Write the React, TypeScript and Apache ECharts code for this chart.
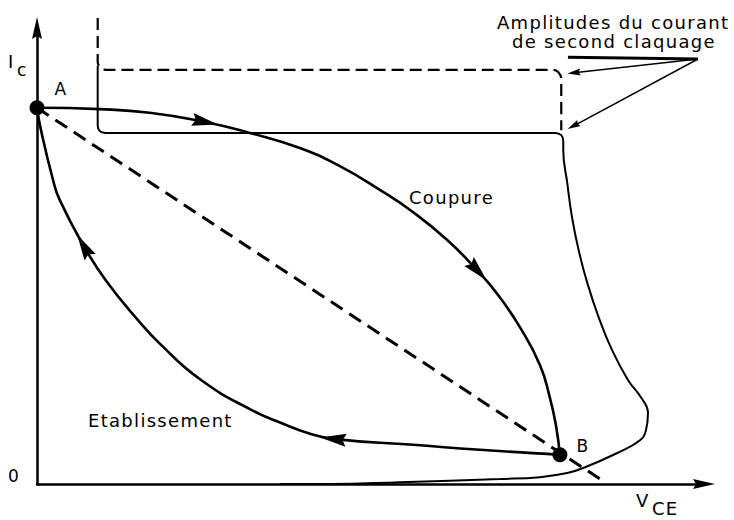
import React, { useEffect, useRef } from 'react';
import * as echarts from 'echarts';

const INK = '#000';
const FONT = '"DejaVu Sans", sans-serif';

// Both axes run over 0..10 arbitrary units (V_CE horizontally, I_C vertically)
const vceMax = 10;
const icMax = 10;
const icTickLabels = ['0'];

// Turn-off trajectory, A -> B
const coupure: number[][] = [
  [0, 8.25], [0.94, 8.22], [1.69, 8.14], [2.52, 7.94], [3.19, 7.7], [3.94, 7.37],
  [4.54, 6.97], [5.14, 6.45], [5.64, 5.96], [6.15, 5.35], [6.61, 4.67], [6.9, 4.17],
  [7.24, 3.44], [7.54, 2.61], [7.69, 1.89], [7.78, 1.29], [7.84, 0.64],
];

// Turn-on trajectory, B -> A
const etablissement: number[][] = [
  [7.84, 0.64], [7.65, 0.66], [6.64, 0.75], [5.64, 0.86], [4.44, 0.99], [4.06, 1.12],
  [3.69, 1.32], [3.22, 1.62], [2.46, 2.28], [1.86, 3.05], [1.51, 3.6], [1.03, 4.47],
  [0.7, 5.22], [0.34, 6.23], [0.24, 6.67], [0.06, 7.76], [0, 8.25],
];

// Second-breakdown limit (solid)
const limitSolid: number[][] = [
  [0.91, 9.17], [0.91, 7.87], [0.94, 7.74], [1.03, 7.7], [7.77, 7.7], [7.86, 7.65],
  [7.89, 7.52], [7.89, 7.32], [7.95, 6.6], [8.02, 5.86], [8.12, 5.13], [8.25, 4.41],
  [8.42, 3.66], [8.62, 2.94], [8.86, 2.28], [9.06, 1.89], [9.16, 1.56], [9.13, 1.18],
  [9.04, 0.96], [8.7, 0.68], [8.19, 0.35], [7.95, 0.24], [7.54, 0.15], [6.94, 0.11],
  [5.44, 0.04], [4.39, 0], [3.64, 0],
];

// Second-breakdown limit (dashed)
const limitDashed: number[][] = [
  [0.91, 10.22], [0.91, 9.25], [0.96, 9.12], [1.05, 9.08], [7.74, 9.08], [7.81, 9.04],
  [7.86, 8.9], [7.86, 7.76],
];

// Straight A -> B path
const loadLine: number[][] = [[0, 8.25], [8.44, 0.11]];

// Operating points
const pointNames = ['A', 'B'];
const pointV = [0, 7.84];
const pointI = [8.25, 0.64];
const pointLabelOffsets = [[24, -19], [23, -9]];

// Vertices that carry a direction arrow
const coupureArrowAt = [3, 10];
const etablissementArrowAt = [4, 12];

// Leader lines for the second-breakdown note
const leaderHub = [9.91, 9.32];
const leaderTips: number[][] = [[8.05, 9.02], [8.04, 7.85]];
const leaderBarStart = [7.96, 9.36];

const ARROW = 'path://M5,0L10,22L5,19L0,22Z';

function textAt(text: string, x: number, y: number, size = 18) {
  return {
    type: 'text',
    x,
    y,
    silent: true,
    style: {
      text,
      fill: INK,
      font: `${size}px ${FONT}`,
      textAlign: 'left',
      textVerticalAlign: 'middle',
    },
  };
}

function headings(chart: any, curve: number[][], idxs: number[]) {
  return idxs.map((i) => {
    const p0 = chart.convertToPixel({ gridIndex: 0 }, curve[i - 1]);
    const p1 = chart.convertToPixel({ gridIndex: 0 }, curve[i + 1]);
    const ang = (Math.atan2(-(p1[1] - p0[1]), p1[0] - p0[0]) * 180) / Math.PI;
    return { value: curve[i], symbolRotate: ang - 90 };
  });
}

export default function App() {
  const ref = useRef<HTMLDivElement>(null);

  useEffect(() => {
    if (!ref.current) return;
    const chart = echarts.init(ref.current, undefined, { renderer: 'svg' });

    const axisLine = {
      show: true,
      onZero: false,
      lineStyle: { color: INK, width: 2.5 },
      symbol: ['none', ARROW],
      symbolSize: [12, 22],
    };

    const option: any = {
      animation: false,
      backgroundColor: '#fff',
      textStyle: { fontFamily: FONT, color: INK },
      grid: { left: 37, top: 28, right: 30, bottom: 36, outerBoundsMode: 'none' },
      xAxis: {
        type: 'value',
        min: 0,
        max: vceMax,
        axisLine,
        axisTick: { show: false },
        axisLabel: { show: false },
        splitLine: { show: false },
      },
      yAxis: {
        type: 'value',
        min: 0,
        max: icMax,
        interval: icMax,
        axisLine,
        axisTick: { show: false },
        axisLabel: {
          margin: 17,
          fontSize: 17,
          color: INK,
          fontFamily: FONT,
          verticalAlign: 'bottom',
          formatter: (v: number) => (v === 0 ? icTickLabels[0] : ''),
        },
        splitLine: { show: false },
      },
      graphic: [
        textAt('Amplitudes du courant', 497, 22.5),
        textAt('de second claquage', 512, 41.5),
        textAt('Coupure', 409, 197.5),
        textAt('Etablissement', 88, 420),
        textAt('I', 8, 61.5),
        textAt('c', 17, 70, 17),
        textAt('V', 636, 500),
        textAt('CE', 652, 508),
      ],
      series: [
        {
          id: 'limitDashed',
          type: 'line',
          data: limitDashed,
          clip: false,
          smooth: 0.3,
          symbol: 'none',
          silent: true,
          lineStyle: { color: INK, width: 2.2, type: [12, 6] },
        },
        {
          id: 'limitSolid',
          type: 'line',
          data: limitSolid,
          smooth: 0.45,
          symbol: 'none',
          silent: true,
          lineStyle: { color: INK, width: 2 },
        },
        {
          id: 'loadLine',
          type: 'line',
          data: loadLine,
          symbol: 'none',
          silent: true,
          lineStyle: { color: INK, width: 3, type: [14, 8] },
        },
        {
          id: 'coupure',
          type: 'line',
          data: coupure,
          smooth: 0.5,
          symbol: 'none',
          silent: true,
          lineStyle: { color: INK, width: 2.6 },
        },
        {
          id: 'etablissement',
          type: 'line',
          data: etablissement,
          smooth: 0.5,
          symbol: 'none',
          silent: true,
          lineStyle: { color: INK, width: 2.6 },
        },
        {
          id: 'heads',
          type: 'scatter',
          data: [],
          symbol: ARROW,
          symbolSize: [13, 26],
          symbolKeepAspect: false,
          silent: true,
          itemStyle: { color: INK, opacity: 1 },
          z: 4,
        },
        {
          id: 'points',
          type: 'scatter',
          symbolSize: 15,
          silent: true,
          itemStyle: { color: INK, opacity: 1 },
          z: 5,
          label: {
            show: true,
            position: 'inside',
            formatter: '{b}',
            color: INK,
            fontSize: 17,
            fontFamily: FONT,
          },
          data: pointNames.map((name, i) => ({
            name,
            value: [pointV[i], pointI[i]],
            label: { offset: pointLabelOffsets[i] },
          })),
        },
        {
          id: 'leaders',
          type: 'line',
          data: [leaderHub],
          symbol: 'none',
          silent: true,
          lineStyle: { opacity: 0 },
          markLine: {
            silent: true,
            animation: false,
            symbol: ['none', ARROW],
            symbolSize: [7, 13],
            label: { show: false },
            lineStyle: { color: INK, width: 1.5, type: 'solid' },
            data: [
              [{ coord: leaderHub }, { coord: leaderTips[0] }],
              [{ coord: leaderHub }, { coord: leaderTips[1] }],
              [
                { coord: leaderBarStart, symbol: 'none', lineStyle: { width: 3, color: INK, type: 'solid' } },
                { coord: leaderHub, symbol: 'none' },
              ],
            ],
          },
        },
      ],
    };

    chart.setOption(option);
    chart.setOption({
      series: [
        {
          id: 'heads',
          data: [
            ...headings(chart, coupure, coupureArrowAt),
            ...headings(chart, etablissement, etablissementArrowAt),
          ],
        },
      ],
    });

    return () => chart.dispose();
  }, []);

  return (
    <>
      <style>{`#sketch text { letter-spacing: 1.3px; }`}</style>
      <div
        id="sketch"
        ref={ref}
        style={{ position: 'absolute', left: 0, top: 0, width: 734, height: 520, background: '#fff' }}
      />
    </>
  );
}
